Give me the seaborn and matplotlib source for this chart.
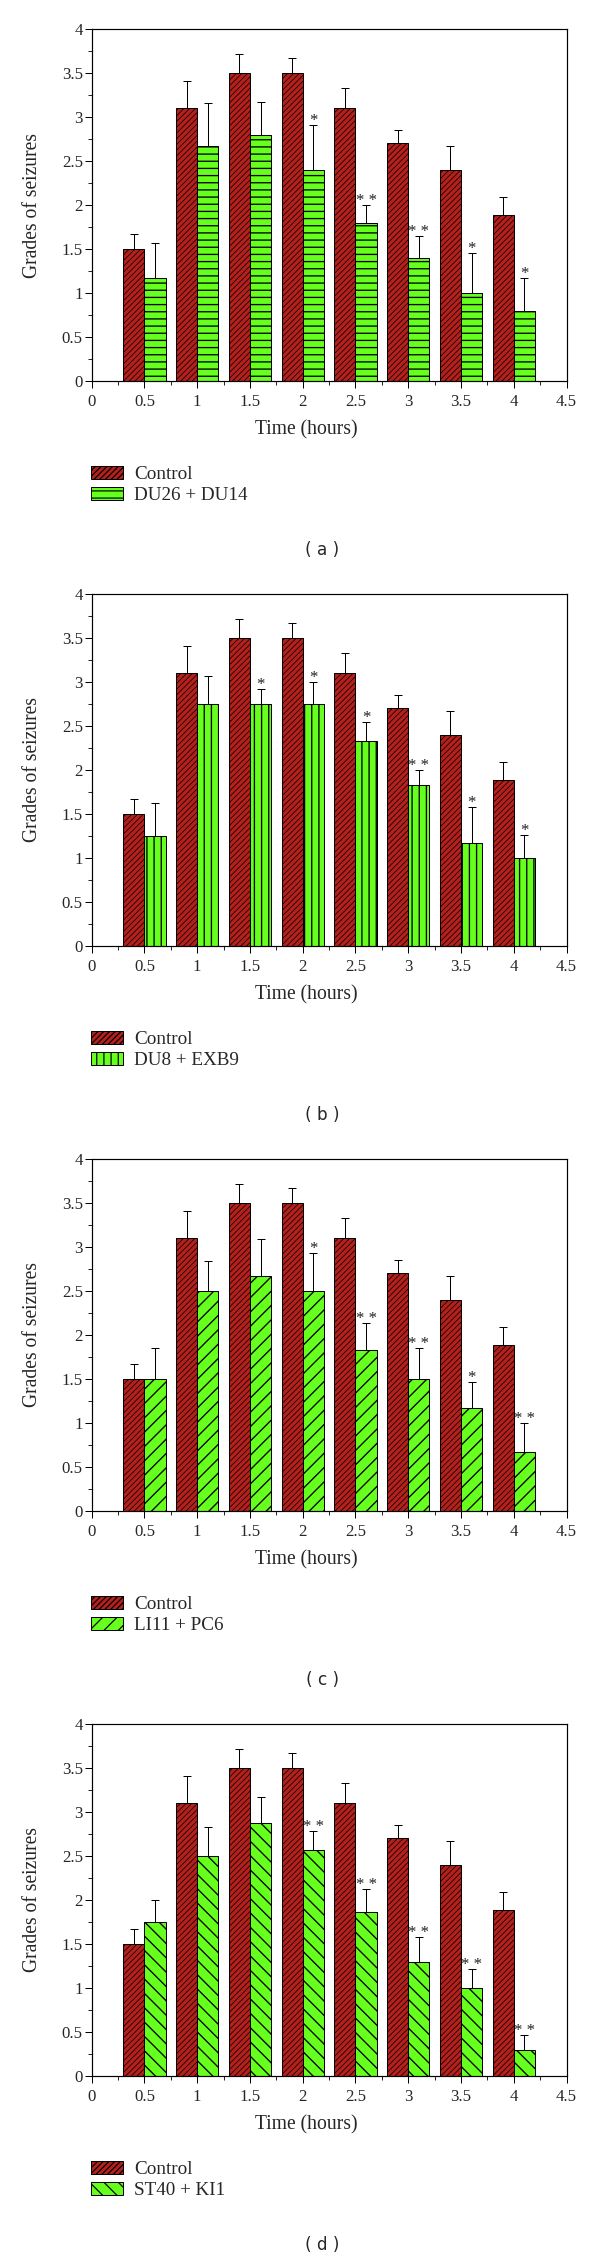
import numpy as np
import pandas as pd
import matplotlib
matplotlib.use("Agg")
import matplotlib.pyplot as plt
import seaborn as sns
from matplotlib.ticker import MultipleLocator, FuncFormatter

# ---------------- data ----------------
times = [0.5, 1, 1.5, 2, 2.5, 3, 3.5, 4]
control_mean = [1.5, 3.1, 3.5, 3.5, 3.1, 2.7, 2.4, 1.89]
control_err = [0.165, 0.31, 0.22, 0.167, 0.23, 0.155, 0.27, 0.2]

treat_labels = ["DU26 + DU14", "DU8 + EXB9", "LI11 + PC6", "ST40 + KI1"]
a_mean = [1.17, 2.67, 2.8, 2.4, 1.8, 1.4, 1.0, 0.8]
a_err = [0.40, 0.49, 0.37, 0.51, 0.2, 0.245, 0.45, 0.37]
a_stars = ["", "", "", "*", "* *", "* *", "*", "*"]
b_mean = [1.25, 2.75, 2.75, 2.75, 2.333, 1.833, 1.167, 1.0]
b_err = [0.37, 0.315, 0.165, 0.25, 0.21, 0.167, 0.41, 0.26]
b_stars = ["", "", "*", "*", "*", "* *", "*", "*"]
c_mean = [1.5, 2.5, 2.67, 2.5, 1.83, 1.5, 1.167, 0.667]
c_err = [0.35, 0.34, 0.42, 0.43, 0.31, 0.35, 0.3, 0.33]
c_stars = ["", "", "", "*", "* *", "* *", "*", "* *"]
d_mean = [1.75, 2.5, 2.875, 2.57, 1.86, 1.29, 1.0, 0.29]
d_err = [0.25, 0.33, 0.3, 0.21, 0.265, 0.285, 0.22, 0.18]
d_stars = ["", "", "", "* *", "* *", "* *", "* *", "* *"]
panel_tags = ["( a )", "( b )", "( c )", "( d )"]

treat_means = [a_mean, b_mean, c_mean, d_mean]
treat_errs = [a_err, b_err, c_err, d_err]
treat_stars = [a_stars, b_stars, c_stars, d_stars]
treat_hatches = ["--", "||", "//", "\\\\"]

# ---------------- style ----------------
sns.set_style("ticks")
DPI = 86
W, H = 600, 2258
plt.rcParams["font.family"] = ["Liberation Serif", "DejaVu Serif"]
plt.rcParams["hatch.linewidth"] = 1.0
plt.rcParams["axes.linewidth"] = 1.0

RED = "#B4201C"
GREEN = "#66FF1E"

fig = plt.figure(figsize=(W / DPI, H / DPI), dpi=DPI, facecolor="white")

left_px, right_px = 91.7, 566.5
period = 565

for k in range(4):
    top_px = 29 + period * k
    bot_px = 381 + period * k
    ax = fig.add_axes([left_px / W, 1 - bot_px / H,
                       (right_px - left_px) / W, (bot_px - top_px) / H])

    df = pd.DataFrame({
        "time": times * 2,
        "grade": control_mean + treat_means[k],
        "group": ["Control"] * len(times) + [treat_labels[k]] * len(times),
    })
    sns.barplot(data=df, x="time", y="grade", hue="group", native_scale=True,
                errorbar=None, width=0.8, palette=[RED, GREEN], saturation=1,
                edgecolor="black", linewidth=0.85, legend=False, ax=ax)

    cont_c, treat_c = ax.containers[0], ax.containers[1]
    for p in cont_c:
        p.set_hatch("/////")
        p.set_edgecolor("black")
        if hasattr(p, "set_hatch_linewidth"):
            p.set_hatch_linewidth(0.6)
    for p in treat_c:
        p.set_hatch(treat_hatches[k])
        p.set_edgecolor("black")
        if hasattr(p, "set_hatch_linewidth"):
            p.set_hatch_linewidth(1.1)

    # error bars (upper only)
    for cont, errs in ((cont_c, control_err), (treat_c, treat_errs[k])):
        xs = [p.get_x() + p.get_width() / 2 for p in cont]
        ys = [p.get_height() for p in cont]
        ax.errorbar(xs, ys, yerr=[np.zeros(len(errs)), errs], fmt="none",
                    ecolor="black", elinewidth=0.85, capsize=3.2,
                    capthick=0.85, zorder=5)

    # significance stars
    for p, e, s in zip(treat_c, treat_errs[k], treat_stars[k]):
        if s:
            ax.text(p.get_x() + p.get_width() / 2, p.get_height() + e, s,
                    ha="center", va="baseline", fontsize=14, color="#222222")

    ax.set_xlim(0, 4.5)
    ax.set_ylim(0, 4)
    ax.xaxis.set_major_locator(MultipleLocator(0.5))
    ax.xaxis.set_minor_locator(MultipleLocator(0.25))
    ax.yaxis.set_major_locator(MultipleLocator(0.5))
    ax.yaxis.set_minor_locator(MultipleLocator(0.25))
    fmt = FuncFormatter(lambda v, pos: f"{v:g}")
    ax.xaxis.set_major_formatter(fmt)
    ax.yaxis.set_major_formatter(fmt)
    ax.tick_params(which="major", direction="out", length=5.9, width=0.85,
                   labelsize=14, top=False, right=False, color="black")
    ax.tick_params(axis="x", which="major", pad=5.0)
    ax.tick_params(axis="y", which="major", pad=1.5)
    ax.tick_params(which="minor", direction="out", length=3.3, width=0.85,
                   top=False, right=False)
    for sp in ax.spines.values():
        sp.set_visible(True)
        sp.set_linewidth(1.0)
        sp.set_color("black")

    ax.set_xlabel("Time (hours)", fontsize=16.4)
    ax.set_ylabel("Grades of seizures", fontsize=16.4)
    ax.xaxis.set_label_coords((306 - left_px) / (right_px - left_px),
                              (381 - 420) / 352)
    ax.yaxis.set_label_coords((42 - left_px) / (right_px - left_px), 0.5)

    leg = ax.legend(handles=[cont_c[0], treat_c[0]],
                    labels=["Control", treat_labels[k]],
                    loc="upper left",
                    bbox_to_anchor=(91 / W, 1 - (465.5 + period * k) / H),
                    bbox_transform=fig.transFigure, frameon=False,
                    fontsize=16, handlelength=1.675, handleheight=0.68,
                    handletextpad=0.58, labelspacing=0.21, borderpad=0,
                    borderaxespad=0)

    fig.text(322 / W, 1 - (550 + period * k) / H, panel_tags[k],
             ha="center", va="center", fontsize=14,
             family=["DejaVu Sans"])

fig.savefig("out.png", dpi=DPI, facecolor="white")
